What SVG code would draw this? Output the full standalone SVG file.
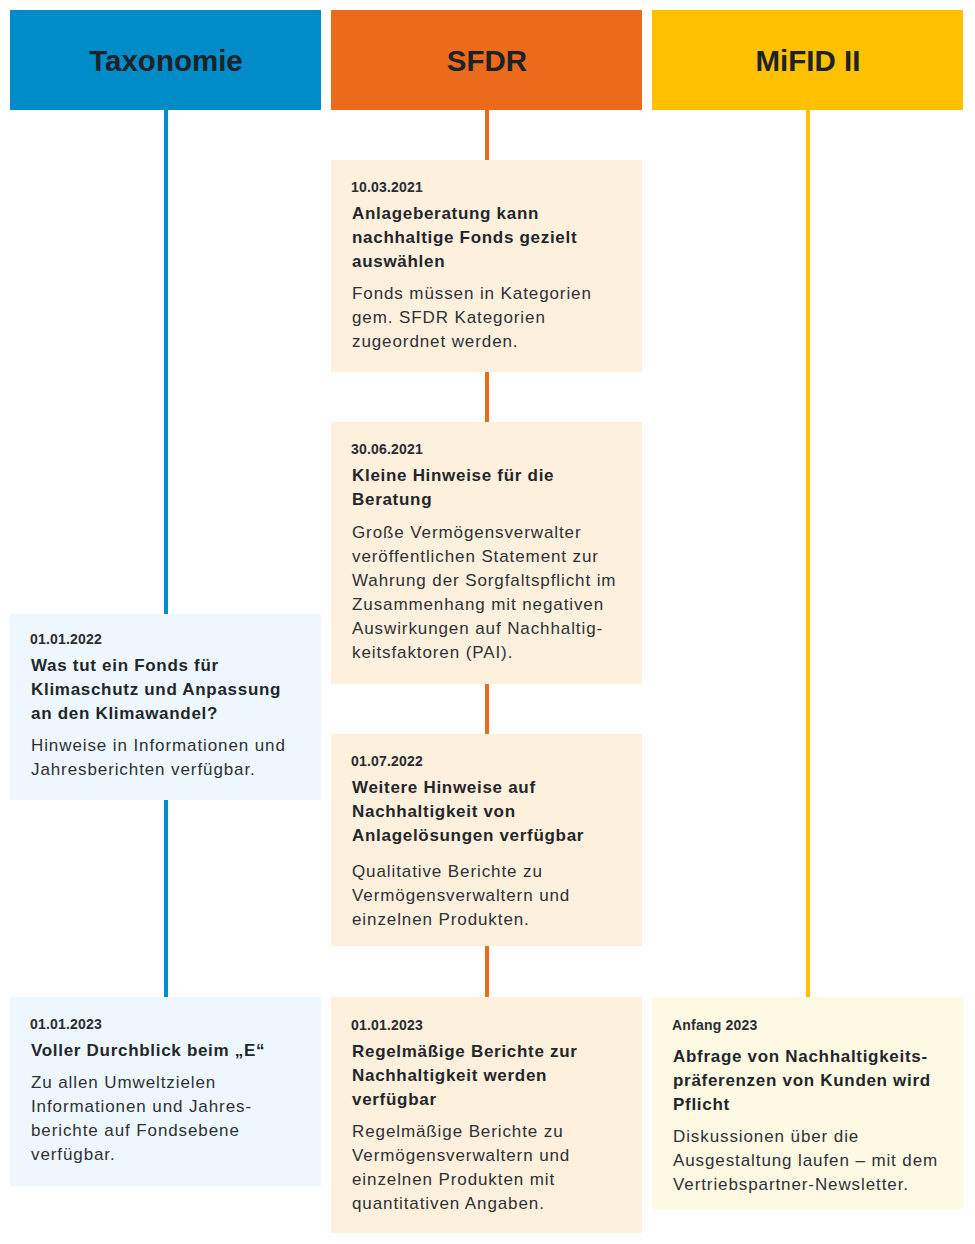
<svg xmlns="http://www.w3.org/2000/svg" width="975" height="1244" viewBox="0 0 975 1244">
<style>
.hd{font-family:"Liberation Sans",Arial,sans-serif;font-weight:bold;font-size:29.5px;fill:#1e2226;text-anchor:middle}
.dt{font-family:"Liberation Sans",Arial,sans-serif;font-weight:bold;font-size:14px;letter-spacing:0.2px;fill:#2a2d31}
.tt{font-family:"Liberation Sans",Arial,sans-serif;font-weight:bold;font-size:17px;letter-spacing:0.7px;fill:#23262a}
.bd{font-family:"Liberation Sans",Arial,sans-serif;font-size:17px;letter-spacing:0.9px;fill:#2e3135}
.tax{fill:#008bc9}.sfdr{fill:#eb6a1b}.mif{fill:#fdc100}
.btax{fill:#eef7fd}.bsfdr{fill:#fdf0dc}.bmif{fill:#fef9e3}
.ln{stroke-width:4;fill:none}
</style>
<rect width="975" height="1244" fill="#ffffff"/>
<g id="connectors">
<line class="ln" stroke="#008bc9" x1="166" y1="110" x2="166" y2="614"/>
<line class="ln" stroke="#008bc9" x1="166" y1="800" x2="166" y2="997"/>
<line class="ln" stroke="#eb6a1b" x1="487" y1="110" x2="487" y2="160"/>
<line class="ln" stroke="#eb6a1b" x1="487" y1="372" x2="487" y2="422"/>
<line class="ln" stroke="#eb6a1b" x1="487" y1="684" x2="487" y2="734"/>
<line class="ln" stroke="#eb6a1b" x1="487" y1="946" x2="487" y2="997"/>
<line class="ln" stroke="#fdc100" x1="808" y1="110" x2="808" y2="997"/>
</g>
<g id="header-taxonomie"><rect class="tax" x="10" y="10" width="311" height="100"/><text class="hd" x="166" y="71">Taxonomie</text></g>
<g id="header-sfdr"><rect class="sfdr" x="331" y="10" width="311" height="100"/><text class="hd" x="487" y="71">SFDR</text></g>
<g id="header-mifid"><rect class="mif" x="652" y="10" width="311" height="100"/><text class="hd" x="808" y="71">MiFID II</text></g>

<g id="sfdr-2021-03">
<rect class="bsfdr" x="331" y="160" width="311" height="212"/>
<text class="dt" x="351" y="192">10.03.2021</text>
<text class="tt" x="352" y="219">Anlageberatung kann</text>
<text class="tt" x="352" y="243">nachhaltige Fonds gezielt</text>
<text class="tt" x="352" y="267">auswählen</text>
<text class="bd" x="352" y="299">Fonds müssen in Kategorien</text>
<text class="bd" x="352" y="323">gem. SFDR Kategorien</text>
<text class="bd" x="352" y="347">zugeordnet werden.</text>
</g>
<g id="sfdr-2021-06">
<rect class="bsfdr" x="331" y="422" width="311" height="262"/>
<text class="dt" x="351" y="454">30.06.2021</text>
<text class="tt" x="352" y="481">Kleine Hinweise für die</text>
<text class="tt" x="352" y="505">Beratung</text>
<text class="bd" x="352" y="538">Große Vermögensverwalter</text>
<text class="bd" x="352" y="562">veröffentlichen Statement zur</text>
<text class="bd" x="352" y="586">Wahrung der Sorgfaltspflicht im</text>
<text class="bd" x="352" y="610">Zusammenhang mit negativen</text>
<text class="bd" x="352" y="634">Auswirkungen auf Nachhaltig-</text>
<text class="bd" x="352" y="658">keitsfaktoren (PAI).</text>
</g>
<g id="sfdr-2022-07">
<rect class="bsfdr" x="331" y="734" width="311" height="212"/>
<text class="dt" x="351" y="766">01.07.2022</text>
<text class="tt" x="352" y="793">Weitere Hinweise auf</text>
<text class="tt" x="352" y="817">Nachhaltigkeit von</text>
<text class="tt" x="352" y="841">Anlagelösungen verfügbar</text>
<text class="bd" x="352" y="877">Qualitative Berichte zu</text>
<text class="bd" x="352" y="901">Vermögensverwaltern und</text>
<text class="bd" x="352" y="925">einzelnen Produkten.</text>
</g>
<g id="sfdr-2023-01">
<rect class="bsfdr" x="331" y="997" width="311" height="236"/>
<text class="dt" x="351" y="1030">01.01.2023</text>
<text class="tt" x="352" y="1057">Regelmäßige Berichte zur</text>
<text class="tt" x="352" y="1081">Nachhaltigkeit werden</text>
<text class="tt" x="352" y="1105">verfügbar</text>
<text class="bd" x="352" y="1137">Regelmäßige Berichte zu</text>
<text class="bd" x="352" y="1161">Vermögensverwaltern und</text>
<text class="bd" x="352" y="1185">einzelnen Produkten mit</text>
<text class="bd" x="352" y="1209">quantitativen Angaben.</text>
</g>
<g id="tax-2022-01">
<rect class="btax" x="10" y="614" width="311" height="186"/>
<text class="dt" x="30" y="644">01.01.2022</text>
<text class="tt" x="31" y="671">Was tut ein Fonds für</text>
<text class="tt" x="31" y="695">Klimaschutz und Anpassung</text>
<text class="tt" x="31" y="719">an den Klimawandel?</text>
<text class="bd" x="31" y="751">Hinweise in Informationen und</text>
<text class="bd" x="31" y="775">Jahresberichten verfügbar.</text>
</g>
<g id="tax-2023-01">
<rect class="btax" x="10" y="997" width="311" height="189"/>
<text class="dt" x="30" y="1029">01.01.2023</text>
<text class="tt" x="31" y="1056">Voller Durchblick beim „E“</text>
<text class="bd" x="31" y="1088">Zu allen Umweltzielen</text>
<text class="bd" x="31" y="1112">Informationen und Jahres-</text>
<text class="bd" x="31" y="1136">berichte auf Fondsebene</text>
<text class="bd" x="31" y="1160">verfügbar.</text>
</g>
<g id="mifid-2023">
<rect class="bmif" x="652" y="997" width="311" height="212"/>
<text class="dt" x="672" y="1030">Anfang 2023</text>
<text class="tt" x="673" y="1062">Abfrage von Nachhaltigkeits-</text>
<text class="tt" x="673" y="1086">präferenzen von Kunden wird</text>
<text class="tt" x="673" y="1110">Pflicht</text>
<text class="bd" x="673" y="1142">Diskussionen über die</text>
<text class="bd" x="673" y="1166">Ausgestaltung laufen – mit dem</text>
<text class="bd" x="673" y="1190">Vertriebspartner-Newsletter.</text>
</g>
</svg>
